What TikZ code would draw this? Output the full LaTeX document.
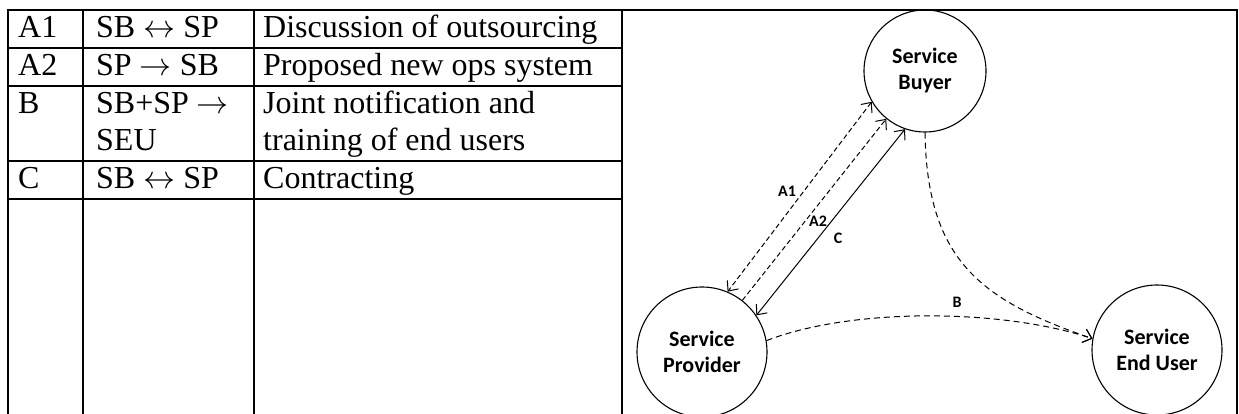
\RequirePackage{fix-cm}
\documentclass[tikz,border=0pt]{standalone}
\usepackage{fontspec}
\setmainfont{Liberation Serif}
\newfontfamily\diagfont{Carlito}
\usetikzlibrary{arrows.meta,shapes.geometric}
\newcommand{\both}{\ensuremath{\leftrightarrow}}
\newcommand{\onto}{\ensuremath{\rightarrow}}
\begin{document}
\begin{tikzpicture}[x=1pt,y=1pt,
  grid/.style={line width=2.6pt},
  cell/.style={anchor=base west, inner sep=0pt, font=\fontsize{32}{37}\selectfont},
  party/.style={draw, ellipse, line width=1.1pt, minimum width=130pt, minimum height=130pt,
    inner sep=0pt, align=center, font=\diagfont\bfseries\fontsize{22}{26}\selectfont},
  flow/.style={line width=1pt, >={Straight Barb[length=8pt,width=14pt]}},
  dashA/.style={dash pattern=on 5pt off 3pt},
  dashB/.style={dash pattern=on 6pt off 4pt},
  lbl/.style={inner sep=0pt, font=\diagfont\bfseries\fontsize{16}{18}\selectfont}]
\useasboundingbox (0,0) rectangle (1239,-414);

% frame and table rules
\draw[grid] (8,-414) -- (8,-10) -- (1237,-10) -- (1237,-414);
\draw[grid] (83,-10) -- (83,-414);
\draw[grid] (254,-10) -- (254,-414);
\draw[grid] (622,-10) -- (622,-414);
\foreach \y in {48,86,161,199} \draw[grid] (8,-\y) -- (622,-\y);

% table text
\node[cell] (a1k) at (18,-38) {A1};
\node[cell] (a1p) at (96,-38) {SB \both{} SP};
\node[cell] (a1d) at (263,-38) {Discussion of outsourcing};
\node[cell] (a2k) at (18,-76) {A2};
\node[cell] (a2p) at (96,-76) {SP \onto{} SB};
\node[cell] (a2d) at (263,-76) {Proposed new ops system};
\node[cell] (bk) at (18,-114) {B};
\node[cell] (bp1) at (96,-114) {SB+SP \onto};
\node[cell] (bp2) at (96,-151) {SEU};
\node[cell] (bd1) at (263,-114) {Joint notification and};
\node[cell] (bd2) at (263,-151) {training of end users};
\node[cell] (ck) at (18,-189) {C};
\node[cell] (cp) at (96,-189) {SB \both{} SP};
\node[cell] (cd) at (263,-189) {Contracting};

% parties
\node[party, minimum width=122pt, minimum height=122pt] (sb) at (925,-71) {Service\\Buyer};
\node[party] (sp) at (702,-352) {Service\\Provider};
\node[party] (seu) at (1157,-350) {Service\\End User};

% flows between buyer and provider
\draw[flow, dashA, <->] (sb.210) -- (sp.67);
\draw[flow, dashA, ->] (sp.52) -- (sb.231);
\draw[flow, <->] (sp.34) -- (sb.251);
\node[lbl] (la1) at (787,-191) {A1};
\node[lbl] (la2) at (818,-221) {A2};
\node[lbl] (lc) at (838,-238) {C};

% joint flow to end users
\coordinate (k1) at (927,-260);
\coordinate (k2) at (980,-300);
\coordinate (k3) at (850,-308);
\coordinate (k4) at (1000,-308);
\draw[flow, dashB, ->] (sb.270) .. controls (k1) and (k2) .. (seu.170);
\draw[flow, dashB, ->] (sp.10) .. controls (k3) and (k4) .. (seu.170);
\node[lbl] (lb) at (957,-302) {B};
\end{tikzpicture}
\end{document}
